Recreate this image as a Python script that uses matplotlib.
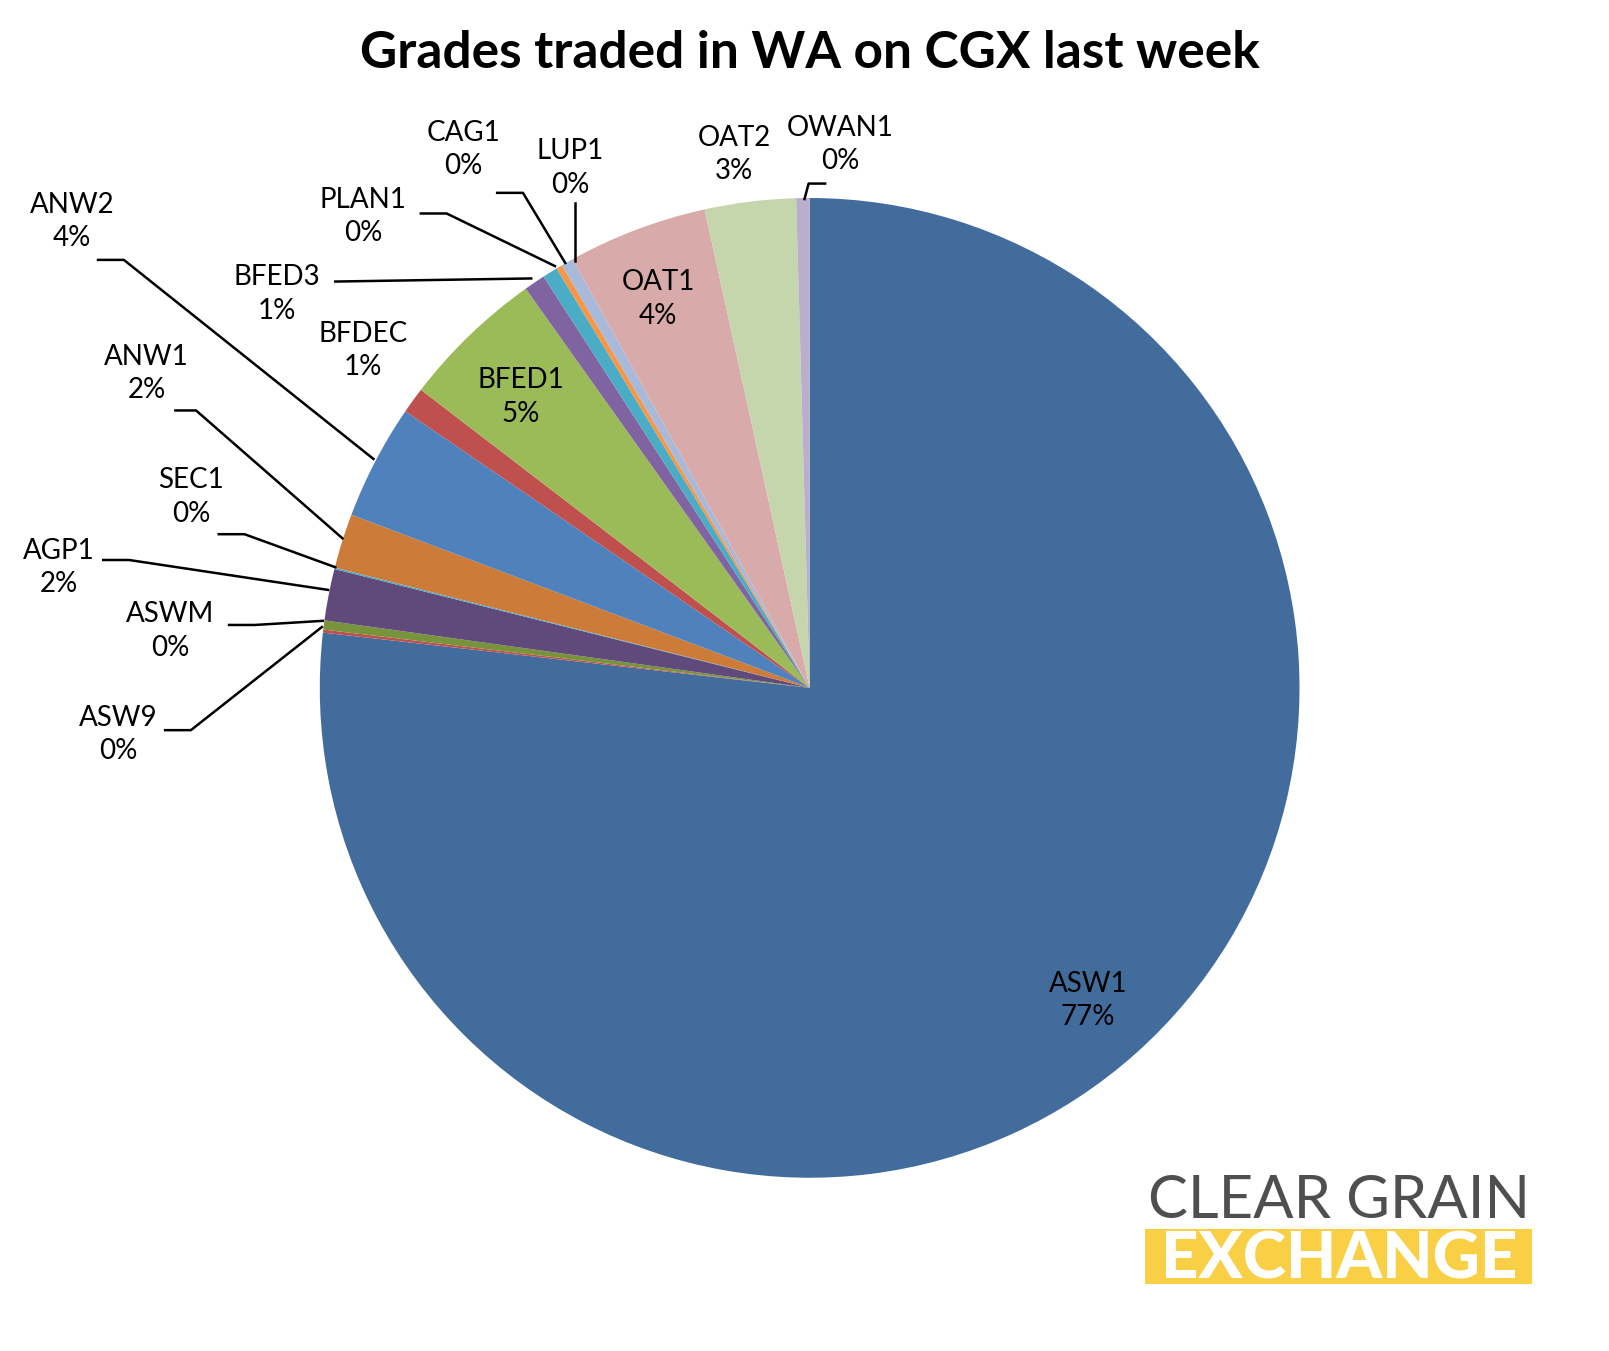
import matplotlib.pyplot as plt
import numpy as np

plt.rcParams['font.family'] = ['Lato', 'DejaVu Sans']

grades = ['ASW1', 'ASW9', 'ASWM', 'AGP1', 'SEC1', 'ANW1', 'ANW2', 'BFDEC', 'BFED1',
          'BFED3', 'PLAN1', 'CAG1', 'LUP1', 'OAT1', 'OAT2', 'OWAN1']
shares = [76.8, 0.1, 0.3, 1.7, 0.05, 1.8, 3.8, 0.86, 4.75, 0.7, 0.5, 0.2, 0.4, 4.6, 3.0, 0.44]
pct_labels = ['77%', '0%', '0%', '2%', '0%', '2%', '4%', '1%', '5%', '1%', '0%', '0%', '0%', '4%', '3%', '0%']
colors = ['#426C9C', '#C0504D', '#77933C', '#604A7B', '#4BACC6', '#CD7B38', '#4F81BD', '#C0504D',
          '#9BBB59', '#8064A2', '#4BACC6', '#F79646', '#A9B9D9', '#D9AAAA', '#C6D6AC', '#B9AFCC']

H = 1310
fig = plt.figure(figsize=(16.09, 13.51), dpi=100)
ax = fig.add_axes([0, 0, 1, 1])

cx, cy, R = 785, H - 667, 475
wedges, _ = ax.pie(shares, colors=colors, startangle=90, counterclock=False,
                   center=(cx, cy), radius=R, frame=True,
                   wedgeprops=dict(linewidth=0))
ax.set_xlim(0, 1560)
ax.set_ylim(0, H)
ax.set_aspect('equal')
ax.axis('off')

# label placement: (text x, text y, leader polyline or None) in image pixels
layout = {
    'ANW2': ((70, 215), [(95, 252), (120, 252), (362, 445)]),
    'ANW1': ((142, 362), [(170, 398), (190, 398), (332, 522)]),
    'SEC1': ((185, 482), [(212, 518), (237, 518), (325, 550)]),
    'AGP1': ((57, 550), [(100, 543), (125, 543), (318, 572)]),
    'ASWM': ((165, 612), [(222, 606), (247, 606), (313, 602)]),
    'ASW9': ((115, 712), [(160, 708), (185, 708), (312, 608)]),
    'BFED3': ((268, 285), [(325, 273), (515, 270)]),
    'BFDEC': ((352, 340), None),
    'PLAN1': ((352, 210), [(408, 207), (433, 207), (538, 258)]),
    'CAG1': ((449, 145), [(482, 187), (507, 187), (548, 255)]),
    'LUP1': ((553, 163), [(557, 197), (557, 253)]),
    'OAT2': ((712, 150), None),
    'OWAN1': ((815, 140), [(800, 178), (784, 178), (780, 193)]),
    'BFED1': ((505, 385), None),
    'OAT1': ((638, 290), None),
    'ASW1': ((1055, 970), None),
}

for g, p in zip(grades, pct_labels):
    (tx, ty), line = layout[g]
    ax.text(tx, H - ty, f'{g}\n{p}', ha='center', va='center', fontsize=20,
            linespacing=1.35, color='black')
    if line:
        xs, ys = zip(*line)
        ax.plot(xs, [H - y for y in ys], color='black', lw=1.8)

ax.text(785, H - 52, 'Grades traded in WA on CGX last week', ha='center', va='center',
        fontsize=37, fontweight='bold')

# logo
ax.text(1298, H - 1165, 'CLEAR GRAIN', ha='center', va='center', fontsize=43,
        color='#4f4f4f')
ax.add_patch(plt.Rectangle((1110, H - 1245), 375, 53, color='#F9D045', lw=0))
ax.text(1298, H - 1222, 'EXCHANGE', ha='center', va='center', fontsize=47,
        fontweight='black', color='white')

fig.savefig('out.png', dpi=100)
